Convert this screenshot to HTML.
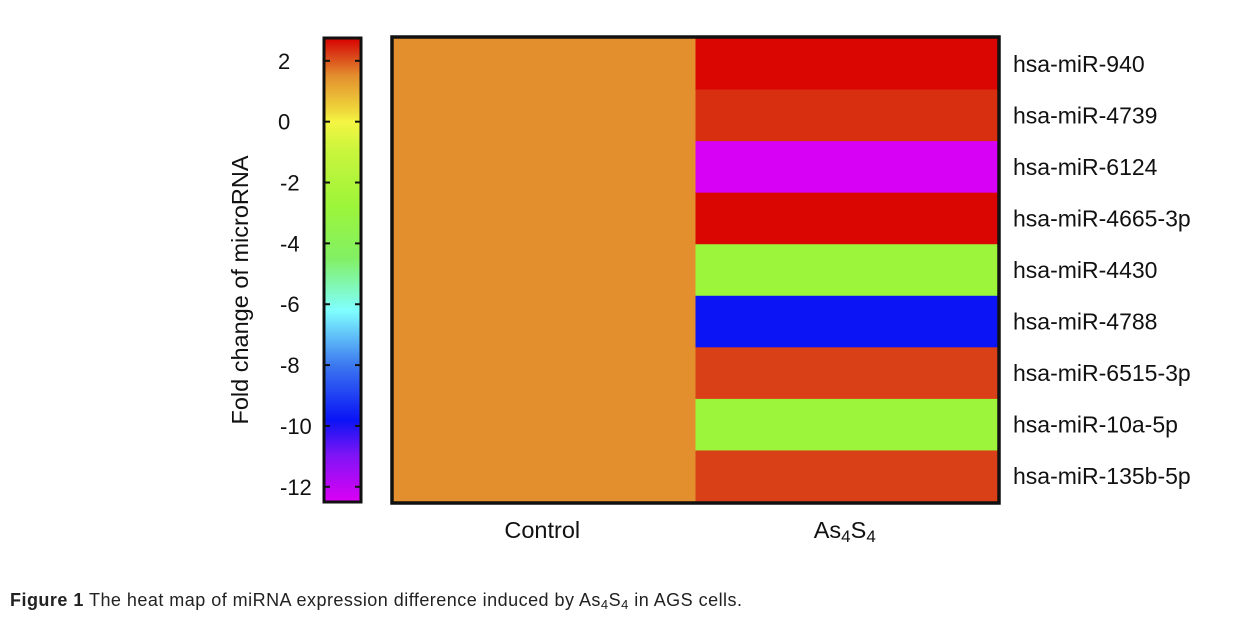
<!DOCTYPE html>
<html><head><meta charset="utf-8"><style>
body{margin:0;background:#fff;width:1239px;height:627px;overflow:hidden;font-family:"Liberation Sans",sans-serif}
svg text{font-family:"Liberation Sans",sans-serif}
</style></head><body>
<svg id="chart" width="1239" height="627" xmlns="http://www.w3.org/2000/svg">
<defs><linearGradient id="cbgrad" x1="0" y1="0" x2="0" y2="1"></linearGradient></defs>
<g id="g"></g>
<text x="10" y="606" font-size="18" fill="#222" textLength="732" lengthAdjust="spacing"><tspan font-weight="bold">Figure 1</tspan> The heat map of miRNA expression difference induced by As<tspan font-size="13" dy="3">4</tspan><tspan dy="-3">S</tspan><tspan font-size="13" dy="3">4</tspan><tspan dy="-3"> in AGS cells.</tspan></text>
</svg>
<script>
const genes=["hsa-miR-940","hsa-miR-4739","hsa-miR-6124","hsa-miR-4665-3p","hsa-miR-4430","hsa-miR-4788","hsa-miR-6515-3p","hsa-miR-10a-5p","hsa-miR-135b-5p"];
const groups=["Control","As4S4"];
const controlValues=[1.5,1.5,1.5,1.5,1.5,1.5,1.5,1.5,1.5];
const as4s4Values=[2.7,2.35,-12.4,2.7,-2.8,-9.8,2.2,-2.8,2.2];
const cbTicks=[2,0,-2,-4,-6,-8,-10,-12];
const NS="http://www.w3.org/2000/svg";
const g=document.getElementById('g');
function mk(t,a){const e=document.createElementNS(NS,t);for(const k in a)e.setAttribute(k,a[k]);return e;}
const vmin=-12.5,vmax=2.75;
const stops=[[2.75,[217,0,0]],[2.2,[217,64,24]],[1.5,[227,143,46]],[0.3,[240,220,60]],[0,[245,245,66]],[-1,[200,245,60]],[-2.8,[156,245,58]],[-4.5,[130,240,100]],[-6.2,[128,255,255]],[-8,[60,120,240]],[-9.8,[10,20,245]],[-11,[130,20,245]],[-12.5,[221,0,245]]];
function color(v){
  for(let i=0;i<stops.length-1;i++){const [a,ca]=stops[i],[b,cb]=stops[i+1];
    if(v<=a&&v>=b){const t=(a-v)/(a-b);return 'rgb('+ca.map((c,j)=>Math.round(c+(cb[j]-c)*t)).join(',')+')';}}
  return v>vmax?'rgb(217,0,0)':'rgb(221,0,245)';
}
const cbTop=38,cbBot=502,cbX=324,cbW=37;
const yCb=v=>cbTop+(vmax-v)/(vmax-vmin)*(cbBot-cbTop);
const grad=document.getElementById('cbgrad');
stops.forEach(s=>{grad.appendChild(mk('stop',{offset:((vmax-s[0])/(vmax-vmin)).toFixed(4),'stop-color':'rgb('+s[1].join(',')+')'}));});
const cb=mk('rect',{x:cbX,y:cbTop,width:cbW,height:cbBot-cbTop,fill:'url(#cbgrad)',stroke:'#111','stroke-width':3});


g.appendChild(cb);
cbTicks.forEach(t=>{const y=yCb(t);
  g.appendChild(mk('line',{x1:cbX,x2:cbX+6,y1:y,y2:y,stroke:'#111','stroke-width':2}));
  g.appendChild(mk('line',{x1:cbX+cbW-6,x2:cbX+cbW,y1:y,y2:y,stroke:'#111','stroke-width':2}));
  const tx=mk('text',{x:t<0?280:278,y:y+8,'text-anchor':'start','font-size':22,fill:'#111'});
  
  
  tx.textContent=t;g.appendChild(tx);});
const yt=mk('text',{x:0,y:0,'font-size':23.5,fill:'#111','text-anchor':'middle',transform:'translate(248,290) rotate(-90)'});


yt.textContent='Fold change of microRNA';g.appendChild(yt);
const hx0=393,hx1=998,hy0=38,hy1=502;
const cw=(hx1-hx0)/groups.length,rh=(hy1-hy0)/genes.length;
const cols=[controlValues,as4s4Values];
cols.forEach((vals,c)=>{vals.forEach((v,r)=>{
  const cell=mk('rect',{x:hx0+c*cw,y:hy0+r*rh,width:cw+0.5,height:rh+0.5,fill:color(v)});
  
  
  g.appendChild(cell);});});
g.appendChild(mk('rect',{x:hx0-1,y:hy0-1,width:hx1-hx0+2,height:hy1-hy0+2,fill:'none',stroke:'#111','stroke-width':3.5}));
genes.forEach((n,r)=>{const t=mk('text',{x:1013,y:hy0+r*rh+rh/2+8,'font-size':23,fill:'#111'});
  
  
  t.textContent=n;g.appendChild(t);});
groups.forEach((n,c)=>{const t=mk('text',{x:hx0+c*cw+cw/2-2,y:538,'font-size':23.5,fill:'#111','text-anchor':'middle'});
  
  
  if(n==='As4S4'){t.innerHTML='As<tspan font-size="17" dy="4">4</tspan><tspan dy="-4">S</tspan><tspan font-size="17" dy="4">4</tspan>';}
  else t.textContent=n;
  g.appendChild(t);});
</script>
</body></html>
